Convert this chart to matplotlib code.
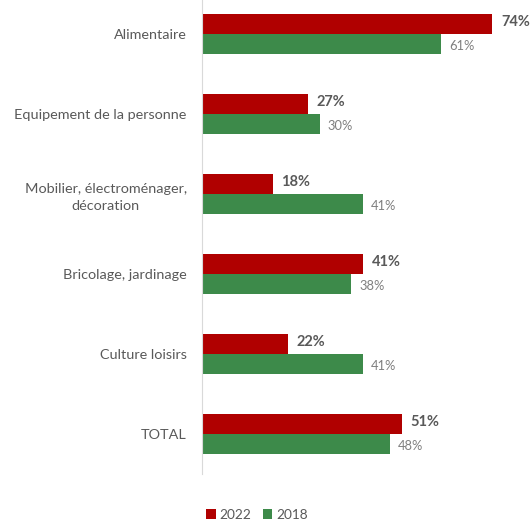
import matplotlib
matplotlib.use("Agg")
import matplotlib.pyplot as plt
import numpy as np

categories = ["Alimentaire", "Equipement de la personne", "Mobilier, électroménager,\ndécoration",
              "Bricolage, jardinage", "Culture loisirs", "TOTAL"]
values_2022 = [74, 27, 18, 41, 22, 51]
values_2018 = [61, 30, 41, 38, 41, 48]
series_labels = ["2022", "2018"]

plt.rcParams['font.family'] = ['Lato', 'DejaVu Sans']

fig = plt.figure(figsize=(5.32, 5.2), dpi=100)
ax = fig.add_axes([202/532, 46/520, (516-202)/532, 474/520])

y = np.arange(len(categories))
h = 0.25
red = "#B00000"
green = "#3D8A4A"
ax.barh(y - h/2, values_2022, height=h, color=red, label=series_labels[0])
ax.barh(y + h/2, values_2018, height=h, color=green, label=series_labels[1])

for yi, v in zip(y, values_2022):
    ax.text(v + 2.2, yi - h/2 - 0.03, f"{v}%", va="center", ha="left", fontsize=10.5,
            fontweight="bold", color="#595959")
for yi, v in zip(y, values_2018):
    ax.text(v + 2.0, yi + h/2 + 0.02, f"{v}%", va="center", ha="left", fontsize=9.3,
            color="#7f7f7f")

ax.set_xlim(0, 80)
ax.set_ylim(5.5, -0.425)
ax.set_yticks(y)
ax.set_yticklabels(categories, fontsize=10.4, color="#595959", ha="right",
                   multialignment="center", linespacing=1.5)
ax.tick_params(axis='y', length=0, pad=11)
ax.set_xticks([])
for s in ["top", "right", "bottom"]:
    ax.spines[s].set_visible(False)
ax.spines["left"].set_color("#d9d9d9")

fig.legend(loc="center", bbox_to_anchor=(257/532, 1 - 515/520), ncol=2, frameon=False,
           fontsize=9.8, handlelength=0.7, handleheight=0.7, columnspacing=0.8,
           handletextpad=0.3, labelcolor="#595959")

fig.savefig("out.png", dpi=100)
